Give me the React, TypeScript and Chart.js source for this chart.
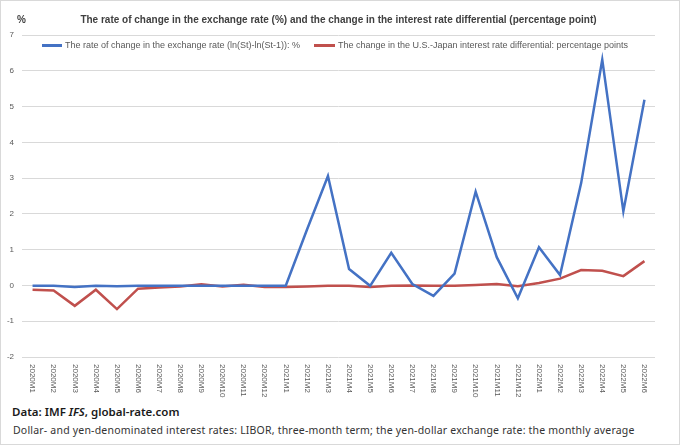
import React, { useEffect, useRef } from "react";
import { Chart, registerables } from "chart.js";

Chart.register(...registerables);

const categories = [
  "2020M1", "2020M2", "2020M3", "2020M4", "2020M5", "2020M6",
  "2020M7", "2020M8", "2020M9", "2020M10", "2020M11", "2020M12",
  "2021M1", "2021M2", "2021M3", "2021M4", "2021M5", "2021M6",
  "2021M7", "2021M8", "2021M9", "2021M10", "2021M11", "2021M12",
  "2022M1", "2022M2", "2022M3", "2022M4", "2022M5", "2022M6",
];

const exchangeRateChange = [
  -0.01, -0.01, -0.04, -0.01, -0.02, -0.01, -0.01, -0.01, -0.01, -0.01, -0.01, -0.01,
  -0.01, 1.55, 3.06, 0.46, -0.01, 0.91, 0.04, -0.29, 0.33, 2.62, 0.79, -0.36,
  1.07, 0.29, 2.86, 6.31, 2.07, 5.19,
];

const rateDiffChange = [
  -0.12, -0.14, -0.57, -0.12, -0.66, -0.09, -0.06, -0.03, 0.03, -0.03, 0.02, -0.04,
  -0.04, -0.03, -0.01, -0.01, -0.04, -0.01, 0.0, -0.01, -0.01, 0.01, 0.04, -0.02,
  0.07, 0.19, 0.43, 0.41, 0.26, 0.68,
];

const seriesNames = [
  "The rate of change in the exchange rate (ln(St)-ln(St-1)): %",
  "The change in the U.S.-Japan interest rate differential: percentage points",
];

const seriesColors = ["#4472C4", "#C0504D"];

const yMin = -2;
const yMax = 7;
const yStep = 1;

const titleText =
  "The rate of change in the exchange rate (%) and the change in the interest rate differential (percentage point)";

const FONT = '"Liberation Sans", Arial, sans-serif';

export default function App() {
  const canvasRef = useRef<HTMLCanvasElement | null>(null);

  useEffect(() => {
    if (!canvasRef.current) return;

    const xLabelPlugin = {
      id: "xLabelsDown",
      afterDraw(chart: any) {
        const xs = chart.scales.x;
        const ctx = chart.ctx;
        ctx.save();
        ctx.font = `8px ${FONT}`;
        ctx.fillStyle = "#595959";
        (chart.data.labels as string[]).forEach((lab, i) => {
          const x = xs.getPixelForValue(i);
          ctx.save();
          ctx.translate(x, chart.chartArea.bottom + 7);
          ctx.rotate(Math.PI / 2);
          ctx.textAlign = "left";
          ctx.textBaseline = "middle";
          ctx.fillText(lab, 0, 0);
          ctx.restore();
        });
        ctx.restore();
      },
    };

    const chart = new Chart(canvasRef.current, {
      type: "line",
      data: {
        labels: categories,
        datasets: [
          {
            label: seriesNames[0],
            data: exchangeRateChange,
            borderColor: seriesColors[0],
            backgroundColor: seriesColors[0],
            borderWidth: 2.5,
            pointRadius: 0,
            tension: 0,
          },
          {
            label: seriesNames[1],
            data: rateDiffChange,
            borderColor: seriesColors[1],
            backgroundColor: seriesColors[1],
            borderWidth: 2.5,
            pointRadius: 0,
            tension: 0,
          },
        ],
      },
      options: {
        animation: false,
        responsive: true,
        maintainAspectRatio: false,
        layout: { padding: { left: 0, right: 25, top: 35, bottom: 0 } },
        plugins: {
          title: { display: false },
          tooltip: { enabled: false },
          legend: { display: false },
        },
        scales: {
          x: {
            offset: true,
            grid: { display: false },
            border: { display: false },
            ticks: { display: false },
            afterFit(s: any) {
              s.height = 43;
            },
          },
          y: {
            min: yMin,
            max: yMax,
            ticks: {
              stepSize: yStep,
              color: "#595959",
              padding: 8,
              font: { size: 8, family: FONT },
            },
            grid: { color: "#d9d9d9", lineWidth: 1, drawTicks: false },
            border: { display: false },
            afterFit(s: any) {
              s.width = 22;
            },
          },
        },
      },
      plugins: [xLabelPlugin],
    });

    return () => chart.destroy();
  }, []);

  const legendItem = (i: number, left: number, swatchW: number) => (
    <div
      key={i}
      style={{
        position: "absolute",
        left,
        top: 38,
        height: 12,
        display: "flex",
        alignItems: "center",
        whiteSpace: "nowrap",
        fontSize: 9,
        color: "#595959",
        fontFamily: FONT,
      }}
    >
      <span
        style={{
          display: "inline-block",
          width: swatchW,
          height: 3,
          background: seriesColors[i],
          marginRight: 3,
        }}
      />
      <span>{seriesNames[i]}</span>
    </div>
  );

  return (
    <div
      style={{
        position: "fixed",
        left: 0,
        top: 0,
        width: 680,
        height: 445,
        boxSizing: "border-box",
        border: "1px solid #d9d9d9",
        background: "#ffffff",
        overflow: "hidden",
        fontFamily: FONT,
      }}
    >
      <div style={{ position: "absolute", left: -1, top: -1, width: 680, height: 400 }}>
        <canvas ref={canvasRef} />
      </div>
      <div
        style={{
          position: "absolute",
          left: 16,
          top: 13,
          fontSize: 10,
          fontWeight: "bold",
          color: "#404040",
        }}
      >
        %
      </div>
      <div
        style={{
          position: "absolute",
          left: 21,
          top: 13,
          width: 633,
          textAlign: "center",
          fontSize: 10,
          fontWeight: "bold",
          color: "#404040",
          whiteSpace: "nowrap",
        }}
      >
        {titleText}
      </div>
      {legendItem(0, 41, 20)}
      {legendItem(1, 313, 21)}
      <div
        style={{
          position: "absolute",
          left: 11,
          top: 404,
          fontSize: 11.5,
          fontWeight: 600,
          color: "#1a1a1a",
          fontFamily: '"Noto Sans", sans-serif',
          whiteSpace: "nowrap",
          lineHeight: "14px",
        }}
      >
        Data: IMF <i>IFS</i>, global-rate.com
      </div>
      <div
        style={{
          position: "absolute",
          left: 12,
          top: 423,
          fontSize: 10.5,
          color: "#333333",
          fontFamily: '"Noto Sans", sans-serif',
          whiteSpace: "nowrap",
          lineHeight: "13px",
          letterSpacing: 0.2,
        }}
      >
        Dollar- and yen-denominated interest rates: LIBOR, three-month term; the yen-dollar exchange rate: the monthly average
      </div>
    </div>
  );
}
